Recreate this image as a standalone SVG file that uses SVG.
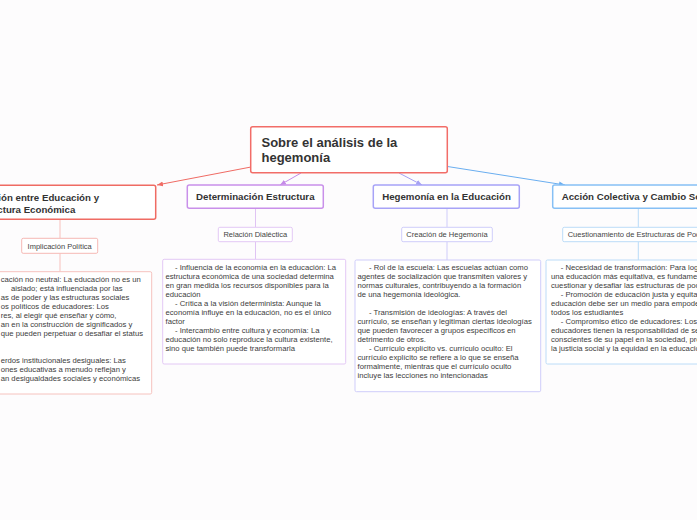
<svg xmlns="http://www.w3.org/2000/svg" width="697" height="520" viewBox="0 0 697 520">
<style>
.bg{fill:#fdfcfd}
.box{fill:#ffffff}
.t1{font-family:"Liberation Sans",Arial,sans-serif;font-weight:bold;fill:#333333}
.t2{font-family:"Liberation Sans",Arial,sans-serif;font-size:7.5px;fill:#444444}
.body{font-family:"Liberation Sans",Arial,sans-serif;font-size:7.7px;fill:#3c3c3c}
.c{fill:none;stroke-width:1}
</style>
<defs>
<marker id="aR" markerUnits="userSpaceOnUse" markerWidth="7" markerHeight="6" refX="6" refY="3" orient="auto"><path d="M0,0.5 L6,3 L0,5.5 Z" fill="#f06b64"/></marker>
<marker id="aP" markerUnits="userSpaceOnUse" markerWidth="7" markerHeight="6" refX="6" refY="3" orient="auto"><path d="M0,0.5 L6,3 L0,5.5 Z" fill="#c58be8"/></marker>
<marker id="aV" markerUnits="userSpaceOnUse" markerWidth="7" markerHeight="6" refX="6" refY="3" orient="auto"><path d="M0,0.5 L6,3 L0,5.5 Z" fill="#a6a1f3"/></marker>
<marker id="aB" markerUnits="userSpaceOnUse" markerWidth="7" markerHeight="6" refX="6" refY="3" orient="auto"><path d="M0,0.5 L6,3 L0,5.5 Z" fill="#6aaef0"/></marker>
</defs>
<rect class="bg" x="0" y="0" width="697" height="520"/>

<g id="connectors">
<line class="c" x1="251" y1="167" x2="157" y2="185" stroke="#f06b64" marker-end="url(#aR)"/>
<line class="c" x1="301" y1="173" x2="280" y2="185" stroke="#c58be8" marker-end="url(#aP)"/>
<line class="c" x1="399" y1="173" x2="422" y2="185" stroke="#a6a1f3" marker-end="url(#aV)"/>
<line class="c" x1="447.5" y1="166.5" x2="565" y2="185" stroke="#6aaef0" marker-end="url(#aB)"/>
<line class="c" x1="60" y1="219.3" x2="60" y2="238.3" stroke="#f7c0bc"/>
<line class="c" x1="60" y1="253.3" x2="60" y2="271.7" stroke="#f7c0bc"/>
<line class="c" x1="255.5" y1="208.3" x2="255.5" y2="227.3" stroke="#e0c4f4"/>
<line class="c" x1="255.5" y1="241.7" x2="255.5" y2="259.3" stroke="#e0c4f4"/>
<line class="c" x1="447" y1="208.3" x2="447" y2="227.3" stroke="#cfccfa"/>
<line class="c" x1="447" y1="241.7" x2="447" y2="260" stroke="#cfccfa"/>
<line class="c" x1="638.3" y1="208.3" x2="638.3" y2="227.3" stroke="#b9dbf8"/>
<line class="c" x1="638.3" y1="241.7" x2="638.3" y2="260" stroke="#b9dbf8"/>
</g>

<g id="central">
<rect class="box" x="250.7" y="126.7" width="196.6" height="46" rx="2" stroke="#f26d68" stroke-width="1.5"/>
<text class="t1" font-size="13" x="261.5" y="146.7">Sobre el análisis de la</text>
<text class="t1" font-size="13" x="261.5" y="161.7">hegemonía</text>
</g>

<g id="relacion">
<rect class="box" x="-40" y="185.3" width="195.7" height="34" rx="2" stroke="#ef6b63" stroke-width="1.5"/>
<text class="t1" font-size="9.7" x="-27.5" y="201">Relación entre Educación y</text>
<text class="t1" font-size="9.7" x="-27.5" y="212.5">Estructura Económica</text>
</g>

<g id="determinacion">
<rect class="box" x="187.3" y="185" width="136" height="23.3" rx="2" stroke="#c990ea" stroke-width="1.5"/>
<text class="t1" font-size="9.7" x="255.3" y="200" text-anchor="middle">Determinación Estructura</text>
</g>

<g id="hegemonia">
<rect class="box" x="373.3" y="185" width="146" height="23.3" rx="2" stroke="#a7a3f7" stroke-width="1.5"/>
<text class="t1" font-size="9.7" x="446.5" y="200" text-anchor="middle">Hegemonía en la Educación</text>
</g>

<g id="accion">
<rect class="box" x="552.7" y="185" width="180" height="23.3" rx="2" stroke="#86c0f5" stroke-width="1.5"/>
<text class="t1" font-size="9.7" x="561.7" y="200">Acción Colectiva y Cambio Social</text>
</g>

<g id="implicacion">
<rect class="box" x="21.7" y="238.3" width="76" height="15" rx="1.5" stroke="#f6b8b4" stroke-width="1"/>
<text class="t2" x="59.7" y="248.6" text-anchor="middle">Implicación Política</text>
</g>

<g id="dialectica">
<rect class="box" x="218.3" y="227.3" width="74" height="14.4" rx="1.5" stroke="#e3c8f5" stroke-width="1"/>
<text class="t2" x="255.3" y="237.2" text-anchor="middle">Relación Dialéctica</text>
</g>

<g id="creacion">
<rect class="box" x="401.7" y="227.3" width="90.6" height="14.4" rx="1.5" stroke="#cfcdfa" stroke-width="1"/>
<text class="t2" x="447" y="237.2" text-anchor="middle">Creación de Hegemonía</text>
</g>

<g id="cuestionamiento">
<rect class="box" x="562.7" y="227.3" width="160" height="14.4" rx="1.5" stroke="#bcdcf8" stroke-width="1"/>
<text class="t2" x="567.7" y="237.2">Cuestionamiento de Estructuras de Poder</text>
</g>

<g id="texto-implicacion">
<rect class="box" x="-40" y="271.7" width="191.7" height="122.3" rx="1.5" stroke="#f6c2be" stroke-width="1"/>
<text class="body" x="0.7" y="282">cación no neutral: La educación no es un</text>
<text class="body" x="11" y="291">aislado; está influenciada por las</text>
<text class="body" x="0.7" y="300">as de poder y las estructuras sociales</text>
<text class="body" x="0.7" y="309">os políticos de educadores: Los</text>
<text class="body" x="0.7" y="318">res, al elegir qué enseñar y cómo,</text>
<text class="body" x="0.7" y="327">an en la construcción de significados y</text>
<text class="body" x="0.7" y="336">que pueden perpetuar o desafiar el status</text>
<text class="body" x="0.7" y="363">erdos institucionales desiguales:  Las</text>
<text class="body" x="0.7" y="372">ones educativas a menudo reflejan y</text>
<text class="body" x="0.7" y="381">an desigualdades sociales y económicas</text>
</g>

<g id="texto-dialectica">
<rect class="box" x="162.7" y="259.3" width="183" height="104.7" rx="1.5" stroke="#e3c8f5" stroke-width="1"/>
<text class="body" x="175" y="270">- Influencia de la economía en la educación: La</text>
<text class="body" x="165.5" y="279">estructura económica de una sociedad determina</text>
<text class="body" x="165.5" y="288">en gran medida los recursos disponibles para la</text>
<text class="body" x="165.5" y="297">educación</text>
<text class="body" x="175" y="306">- Crítica a la visión determinista:  Aunque la</text>
<text class="body" x="165.5" y="315">economía influye en la educación, no es el único</text>
<text class="body" x="165.5" y="324">factor</text>
<text class="body" x="175" y="333">- Intercambio entre cultura y economía: La</text>
<text class="body" x="165.5" y="342">educación no solo reproduce la cultura existente,</text>
<text class="body" x="165.5" y="351">sino que también puede transformarla</text>
</g>

<g id="texto-creacion">
<rect class="box" x="355" y="260" width="185.7" height="131.7" rx="1.5" stroke="#cfcdfa" stroke-width="1"/>
<text class="body" x="369" y="269.5">- Rol de la escuela: Las escuelas actúan como</text>
<text class="body" x="357.5" y="278.5">agentes de socialización que transmiten valores y</text>
<text class="body" x="357.5" y="287.5">normas culturales, contribuyendo a la formación</text>
<text class="body" x="357.5" y="296.5">de una hegemonía ideológica.</text>
<text class="body" x="369" y="314.5">- Transmisión de ideologías: A través del</text>
<text class="body" x="357.5" y="323.5">currículo, se enseñan y legitiman ciertas ideologías</text>
<text class="body" x="357.5" y="332.5">que pueden favorecer a grupos específicos en</text>
<text class="body" x="357.5" y="341.5">detrimento de otros.</text>
<text class="body" x="369" y="350.5">- Currículo explícito vs. currículo oculto: El</text>
<text class="body" x="357.5" y="359.5">currículo explícito se refiere a lo que se enseña</text>
<text class="body" x="357.5" y="368.5">formalmente, mientras que el currículo oculto</text>
<text class="body" x="357.5" y="377.5">incluye las lecciones no intencionadas</text>
</g>

<g id="texto-cuestionamiento">
<rect class="box" x="546" y="260" width="200" height="104" rx="1.5" stroke="#bcdcf8" stroke-width="1"/>
<text class="body" x="560.7" y="269.5">- Necesidad de transformación:  Para lograr</text>
<text class="body" x="551" y="278.5">una educación más equitativa, es fundamental</text>
<text class="body" x="551" y="287.5">cuestionar y desafiar las estructuras de poder</text>
<text class="body" x="560.7" y="296.5">- Promoción de educación justa y equitativa</text>
<text class="body" x="551" y="305.5">educación debe ser un medio para empoderar</text>
<text class="body" x="551" y="314.5">todos los estudiantes</text>
<text class="body" x="560.7" y="323.5">- Compromiso ético de educadores: Los</text>
<text class="body" x="551" y="332.5">educadores tienen la responsabilidad de ser</text>
<text class="body" x="551" y="341.5">conscientes de su papel en la sociedad, promoviendo</text>
<text class="body" x="551" y="350.5">la justicia social y la equidad en la educación</text>
</g>
</svg>
